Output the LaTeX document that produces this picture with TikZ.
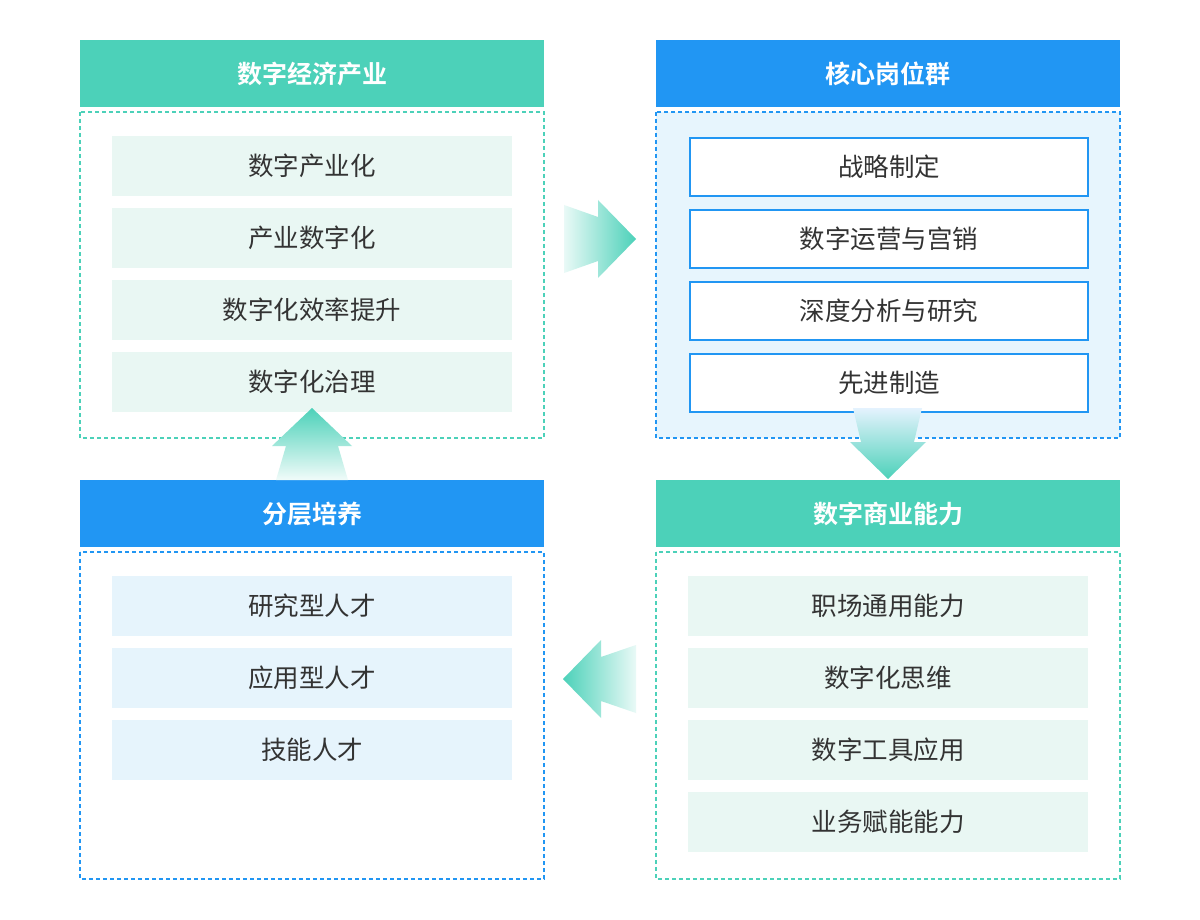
\documentclass[tikz,border=0pt]{standalone}
\usepackage{fontspec}
\newfontfamily\cjk{Noto Sans CJK SC}
\newfontfamily\cjkb{Noto Sans CJK SC Bold}
\definecolor{teal}{HTML}{4CD1B9}
\definecolor{blu}{HTML}{2196F3}
\definecolor{lgreen}{HTML}{E9F7F3}
\definecolor{lblue}{HTML}{E6F4FC}
\definecolor{regblue}{HTML}{E7F5FD}
\definecolor{txt}{HTML}{333333}
\begin{document}
\begin{tikzpicture}[x=1pt,y=-1pt,
  hdr/.style={draw=none,minimum width=464pt,minimum height=67pt,anchor=north west,font=\cjkb\fontsize{25}{28}\selectfont,text=white,inner sep=0},
  region/.style={dashed,dash pattern=on 4pt off 3pt,line width=1.2pt},
  item/.style={minimum width=400pt,minimum height=60pt,anchor=north west,font=\cjk\fontsize{25.5}{28}\selectfont,text=txt,inner sep=0}]
\useasboundingbox (0,0) rectangle (1200,920);
\fill[white] (0,0) rectangle (1200,920);
% top-left
\node[hdr,fill=teal] (h1) at (80,40) {数字经济产业};
\draw[region,draw=teal] (80,112) rectangle (544,438);
\foreach \t [count=\i] in {数字产业化,产业数字化,数字化效率提升,数字化治理}
  \node[item,fill=lgreen] (a\i) at (112,136+72*\i-72) {\t};
% top-right
\node[hdr,fill=blu] (h2) at (656,40) {核心岗位群};
\draw[region,draw=blu,fill=regblue] (656,112) rectangle (1120,438);
\foreach \t [count=\i] in {战略制定,数字运营与宫销,深度分析与研究,先进制造}
  \node[item,fill=white,draw=blu,line width=2pt,minimum width=398pt,minimum height=58pt] (b\i) at (689,137+72*\i-72) {\t};
% bottom-right
\node[hdr,fill=teal] (h3) at (656,480) {数字商业能力};
\draw[region,draw=teal] (656,552) rectangle (1120,879);
\foreach \t [count=\i] in {职场通用能力,数字化思维,数字工具应用,业务赋能能力}
  \node[item,fill=lgreen] (c\i) at (688,576+72*\i-72) {\t};
% bottom-left
\node[hdr,fill=blu] (h4) at (80,480) {分层培养};
\draw[region,draw=blu] (80,552) rectangle (544,879);
\foreach \t [count=\i] in {研究型人才,应用型人才,技能人才}
  \node[item,fill=lblue] (d\i) at (112,576+72*\i-72) {\t};
% arrows
\shade[left color=teal!12,right color=teal] (564,205)--(598,217)--(598,200)--(636,239)--(598,278)--(598,261)--(564,273)--cycle;
\shade[top color=blu!12,bottom color=teal] (853,408)--(922,408)--(914,442)--(926,442)--(888,479)--(850,442)--(861,442)--cycle;
\shade[left color=teal,right color=teal!12] (636,645)--(601,657)--(601,640)--(563,679)--(601,718)--(601,701)--(636,713)--cycle;
\shade[top color=teal,bottom color=teal!8] (276,480)--(286,446)--(272,446)--(312,408)--(352,446)--(338,446)--(348,480)--cycle;
\end{tikzpicture}
\end{document}
